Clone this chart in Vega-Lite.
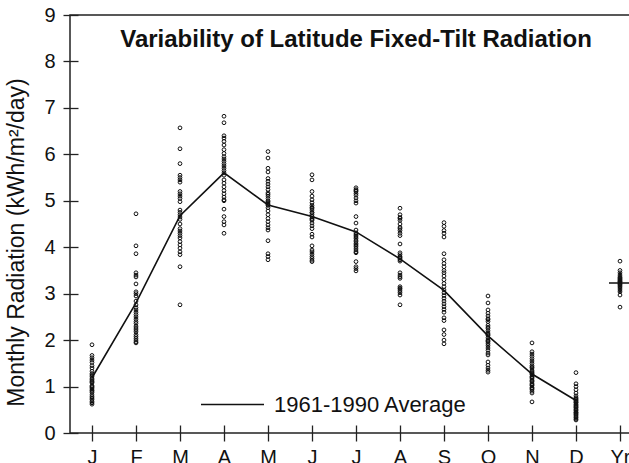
{
  "$schema": "https://vega.github.io/schema/vega-lite/v6.json",
  "autosize": "none",
  "padding": {"left": 70, "top": 15, "right": 0, "bottom": 30},
  "width": 572,
  "height": 418,
  "background": "white",
  "config": {
    "font": "Liberation Sans",
    "view": {"stroke": "#222", "strokeWidth": 1.5},
    "axis": {"grid": false, "domain": false, "tickColor": "#222", "tickWidth": 1.3, "labelColor": "#111", "titleColor": "#111", "labelFont": "Liberation Sans", "titleFont": "Liberation Sans", "titleFontWeight": "normal"}
  },
  "datasets": {
    "obs": [
      {"m":1,"v":1.9},{"m":1,"v":1.67},{"m":1,"v":1.62},{"m":1,"v":1.57},{"m":1,"v":1.52},{"m":1,"v":1.45},{"m":1,"v":1.4},{"m":1,"v":1.33},{"m":1,"v":1.28},{"m":1,"v":1.25},{"m":1,"v":1.22},{"m":1,"v":1.18},{"m":1,"v":1.15},{"m":1,"v":1.12},{"m":1,"v":1.1},{"m":1,"v":1.08},{"m":1,"v":1.02},{"m":1,"v":1.0},{"m":1,"v":0.98},{"m":1,"v":0.95},{"m":1,"v":0.92},{"m":1,"v":0.9},{"m":1,"v":0.87},{"m":1,"v":0.82},{"m":1,"v":0.78},{"m":1,"v":0.75},{"m":1,"v":0.72},{"m":1,"v":0.68},{"m":1,"v":0.65},{"m":1,"v":0.62},
      {"m":2,"v":4.72},{"m":2,"v":4.03},{"m":2,"v":3.86},{"m":2,"v":3.45},{"m":2,"v":3.4},{"m":2,"v":3.36},{"m":2,"v":3.21},{"m":2,"v":3.04},{"m":2,"v":3.0},{"m":2,"v":2.95},{"m":2,"v":2.76},{"m":2,"v":2.7},{"m":2,"v":2.65},{"m":2,"v":2.6},{"m":2,"v":2.5},{"m":2,"v":2.45},{"m":2,"v":2.4},{"m":2,"v":2.36},{"m":2,"v":2.3},{"m":2,"v":2.26},{"m":2,"v":2.22},{"m":2,"v":2.18},{"m":2,"v":2.12},{"m":2,"v":2.08},{"m":2,"v":2.04},{"m":2,"v":2.0},{"m":2,"v":1.96},{"m":2,"v":1.94},{"m":2,"v":2.55},{"m":2,"v":2.84},
      {"m":3,"v":6.57},{"m":3,"v":6.12},{"m":3,"v":5.8},{"m":3,"v":5.55},{"m":3,"v":5.5},{"m":3,"v":5.45},{"m":3,"v":5.4},{"m":3,"v":5.2},{"m":3,"v":5.15},{"m":3,"v":5.1},{"m":3,"v":5.05},{"m":3,"v":4.98},{"m":3,"v":4.8},{"m":3,"v":4.75},{"m":3,"v":4.7},{"m":3,"v":4.65},{"m":3,"v":4.6},{"m":3,"v":4.5},{"m":3,"v":4.4},{"m":3,"v":4.35},{"m":3,"v":4.3},{"m":3,"v":4.25},{"m":3,"v":4.2},{"m":3,"v":4.12},{"m":3,"v":4.05},{"m":3,"v":3.98},{"m":3,"v":3.9},{"m":3,"v":3.84},{"m":3,"v":3.58},{"m":3,"v":2.76},
      {"m":4,"v":6.82},{"m":4,"v":6.68},{"m":4,"v":6.4},{"m":4,"v":6.35},{"m":4,"v":6.28},{"m":4,"v":6.2},{"m":4,"v":6.1},{"m":4,"v":6.02},{"m":4,"v":5.95},{"m":4,"v":5.9},{"m":4,"v":5.85},{"m":4,"v":5.8},{"m":4,"v":5.75},{"m":4,"v":5.7},{"m":4,"v":5.65},{"m":4,"v":5.6},{"m":4,"v":5.55},{"m":4,"v":5.45},{"m":4,"v":5.38},{"m":4,"v":5.3},{"m":4,"v":5.22},{"m":4,"v":5.15},{"m":4,"v":5.08},{"m":4,"v":5.02},{"m":4,"v":4.82},{"m":4,"v":4.66},{"m":4,"v":4.55},{"m":4,"v":4.48},{"m":4,"v":4.3},{"m":4,"v":5.0},
      {"m":5,"v":6.06},{"m":5,"v":5.92},{"m":5,"v":5.7},{"m":5,"v":5.62},{"m":5,"v":5.48},{"m":5,"v":5.42},{"m":5,"v":5.36},{"m":5,"v":5.3},{"m":5,"v":5.24},{"m":5,"v":5.17},{"m":5,"v":5.1},{"m":5,"v":5.05},{"m":5,"v":5.0},{"m":5,"v":4.95},{"m":5,"v":4.9},{"m":5,"v":4.85},{"m":5,"v":4.78},{"m":5,"v":4.7},{"m":5,"v":4.62},{"m":5,"v":4.55},{"m":5,"v":4.48},{"m":5,"v":4.42},{"m":5,"v":4.37},{"m":5,"v":4.14},{"m":5,"v":3.86},{"m":5,"v":3.8},{"m":5,"v":3.73},{"m":5,"v":5.14},{"m":5,"v":4.98},{"m":5,"v":4.92},
      {"m":6,"v":5.56},{"m":6,"v":5.45},{"m":6,"v":5.2},{"m":6,"v":5.1},{"m":6,"v":5.02},{"m":6,"v":4.96},{"m":6,"v":4.9},{"m":6,"v":4.86},{"m":6,"v":4.8},{"m":6,"v":4.75},{"m":6,"v":4.7},{"m":6,"v":4.66},{"m":6,"v":4.62},{"m":6,"v":4.58},{"m":6,"v":4.52},{"m":6,"v":4.46},{"m":6,"v":4.4},{"m":6,"v":4.28},{"m":6,"v":4.22},{"m":6,"v":4.03},{"m":6,"v":3.94},{"m":6,"v":3.9},{"m":6,"v":3.85},{"m":6,"v":3.8},{"m":6,"v":3.76},{"m":6,"v":3.72},{"m":6,"v":3.69},{"m":6,"v":4.84},{"m":6,"v":4.74},{"m":6,"v":4.6},
      {"m":7,"v":5.28},{"m":7,"v":5.24},{"m":7,"v":5.2},{"m":7,"v":5.16},{"m":7,"v":5.12},{"m":7,"v":5.06},{"m":7,"v":5.0},{"m":7,"v":4.95},{"m":7,"v":4.66},{"m":7,"v":4.52},{"m":7,"v":4.37},{"m":7,"v":4.31},{"m":7,"v":4.28},{"m":7,"v":4.25},{"m":7,"v":4.22},{"m":7,"v":4.19},{"m":7,"v":4.15},{"m":7,"v":4.12},{"m":7,"v":4.08},{"m":7,"v":4.05},{"m":7,"v":4.02},{"m":7,"v":3.98},{"m":7,"v":3.94},{"m":7,"v":3.9},{"m":7,"v":3.88},{"m":7,"v":3.69},{"m":7,"v":3.58},{"m":7,"v":3.54},{"m":7,"v":3.49},{"m":7,"v":5.22},
      {"m":8,"v":4.84},{"m":8,"v":4.7},{"m":8,"v":4.64},{"m":8,"v":4.58},{"m":8,"v":4.5},{"m":8,"v":4.43},{"m":8,"v":4.36},{"m":8,"v":4.3},{"m":8,"v":4.07},{"m":8,"v":3.88},{"m":8,"v":3.84},{"m":8,"v":3.8},{"m":8,"v":3.76},{"m":8,"v":3.73},{"m":8,"v":3.45},{"m":8,"v":3.4},{"m":8,"v":3.36},{"m":8,"v":3.33},{"m":8,"v":3.15},{"m":8,"v":3.1},{"m":8,"v":3.06},{"m":8,"v":3.02},{"m":8,"v":2.97},{"m":8,"v":2.76},{"m":8,"v":4.4},{"m":8,"v":3.7},{"m":8,"v":3.78},{"m":8,"v":3.12},{"m":8,"v":4.25},{"m":8,"v":4.62},
      {"m":9,"v":4.53},{"m":9,"v":4.45},{"m":9,"v":4.36},{"m":9,"v":4.3},{"m":9,"v":4.22},{"m":9,"v":3.86},{"m":9,"v":3.73},{"m":9,"v":3.65},{"m":9,"v":3.58},{"m":9,"v":3.5},{"m":9,"v":3.45},{"m":9,"v":3.38},{"m":9,"v":3.3},{"m":9,"v":3.22},{"m":9,"v":3.15},{"m":9,"v":3.08},{"m":9,"v":3.02},{"m":9,"v":2.96},{"m":9,"v":2.9},{"m":9,"v":2.84},{"m":9,"v":2.78},{"m":9,"v":2.72},{"m":9,"v":2.66},{"m":9,"v":2.6},{"m":9,"v":2.48},{"m":9,"v":2.42},{"m":9,"v":2.22},{"m":9,"v":2.12},{"m":9,"v":2.0},{"m":9,"v":1.92},
      {"m":10,"v":2.95},{"m":10,"v":2.8},{"m":10,"v":2.65},{"m":10,"v":2.58},{"m":10,"v":2.52},{"m":10,"v":2.46},{"m":10,"v":2.4},{"m":10,"v":2.32},{"m":10,"v":2.25},{"m":10,"v":2.2},{"m":10,"v":2.15},{"m":10,"v":2.1},{"m":10,"v":2.05},{"m":10,"v":2.0},{"m":10,"v":1.96},{"m":10,"v":1.92},{"m":10,"v":1.88},{"m":10,"v":1.83},{"m":10,"v":1.78},{"m":10,"v":1.72},{"m":10,"v":1.68},{"m":10,"v":1.53},{"m":10,"v":1.46},{"m":10,"v":1.4},{"m":10,"v":1.35},{"m":10,"v":1.31},{"m":10,"v":2.28},{"m":10,"v":2.12},{"m":10,"v":1.98},{"m":10,"v":2.44},
      {"m":11,"v":1.94},{"m":11,"v":1.75},{"m":11,"v":1.7},{"m":11,"v":1.65},{"m":11,"v":1.6},{"m":11,"v":1.55},{"m":11,"v":1.5},{"m":11,"v":1.45},{"m":11,"v":1.4},{"m":11,"v":1.35},{"m":11,"v":1.3},{"m":11,"v":1.26},{"m":11,"v":1.22},{"m":11,"v":1.18},{"m":11,"v":1.14},{"m":11,"v":1.1},{"m":11,"v":1.06},{"m":11,"v":1.02},{"m":11,"v":0.98},{"m":11,"v":0.94},{"m":11,"v":0.9},{"m":11,"v":0.86},{"m":11,"v":0.67},{"m":11,"v":1.28},{"m":11,"v":1.2},{"m":11,"v":1.12},{"m":11,"v":1.04},{"m":11,"v":1.32},{"m":11,"v":1.42},{"m":11,"v":0.96},
      {"m":12,"v":1.3},{"m":12,"v":1.06},{"m":12,"v":1.0},{"m":12,"v":0.93},{"m":12,"v":0.86},{"m":12,"v":0.8},{"m":12,"v":0.76},{"m":12,"v":0.72},{"m":12,"v":0.68},{"m":12,"v":0.65},{"m":12,"v":0.62},{"m":12,"v":0.58},{"m":12,"v":0.55},{"m":12,"v":0.52},{"m":12,"v":0.48},{"m":12,"v":0.45},{"m":12,"v":0.42},{"m":12,"v":0.38},{"m":12,"v":0.35},{"m":12,"v":0.3},{"m":12,"v":0.28},{"m":12,"v":0.7},{"m":12,"v":0.66},{"m":12,"v":0.6},{"m":12,"v":0.5},{"m":12,"v":0.44},{"m":12,"v":0.74},{"m":12,"v":0.56},{"m":12,"v":0.4},{"m":12,"v":0.33},
      {"m":13,"v":3.7},{"m":13,"v":3.5},{"m":13,"v":3.45},{"m":13,"v":3.4},{"m":13,"v":3.36},{"m":13,"v":3.32},{"m":13,"v":3.28},{"m":13,"v":3.25},{"m":13,"v":3.22},{"m":13,"v":3.18},{"m":13,"v":3.15},{"m":13,"v":3.12},{"m":13,"v":3.08},{"m":13,"v":3.04},{"m":13,"v":2.97},{"m":13,"v":2.71},{"m":13,"v":3.3},{"m":13,"v":3.2},{"m":13,"v":3.26},{"m":13,"v":3.34}
    ],
    "avg": [
      {"m":1,"v":1.19},{"m":2,"v":2.8},{"m":3,"v":4.68},{"m":4,"v":5.6},{"m":5,"v":4.91},{"m":6,"v":4.66},{"m":7,"v":4.33},{"m":8,"v":3.75},{"m":9,"v":3.07},{"m":10,"v":2.09},{"m":11,"v":1.27},{"m":12,"v":0.7}
    ],
    "yr": [{"m":13,"v":3.23}],
    "titles": [{"m":7,"v":8.31,"label":"Variability of Latitude Fixed-Tilt Radiation"}]
  },
  "layer": [
    {
      "data": {"name": "obs"},
      "mark": {"type": "point", "filled": false, "stroke": "#111", "strokeWidth": 1, "size": 14, "opacity": 1},
      "encoding": {
        "x": {"field": "m", "type": "quantitative",
          "scale": {"domain": [0.5, 13.5], "nice": false, "zero": false},
          "axis": {"values": [1,2,3,4,5,6,7,8,9,10,11,12,13], "title": null, "offset": -8, "tickSize": 16, "labelPadding": 6, "labelFontSize": 20, "labelBaseline": "top",
            "labelExpr": "['J','F','M','A','M','J','J','A','S','O','N','D','Yr'][datum.value-1]"}},
        "y": {"field": "v", "type": "quantitative",
          "scale": {"domain": [0, 9], "nice": false},
          "axis": {"values": [0,1,2,3,4,5,6,7,8,9], "offset": -8, "tickSize": 15, "labelPadding": 8, "labelFontSize": 20,
            "title": "Monthly Radiation (kWh/m²/day)", "titleFontSize": 23, "titleAngle": -90, "titleBaseline": "alphabetic", "titleX": -55, "titleY": 227, "titleAlign": "center"}}
      }
    },
    {
      "data": {"name": "avg"},
      "mark": {"type": "line", "strokeWidth": 1.6},
      "encoding": {
        "x": {"field": "m", "type": "quantitative"},
        "y": {"field": "v", "type": "quantitative"},
        "stroke": {"datum": "1961-1990 Average", "type": "nominal",
          "scale": {"range": ["#111"]},
          "legend": {"title": null, "orient": "none", "legendX": 130, "legendY": 357, "symbolType": "stroke", "symbolSize": 3969, "symbolStrokeWidth": 1.3, "labelFontSize": 22, "labelLimit": 400, "labelOffset": 9, "labelColor": "#111", "padding": 0, "labelFont": "Liberation Sans"}}
      }
    },
    {
      "data": {"name": "yr"},
      "mark": {"type": "point", "shape": "M-1,0L1,0M0,-1L0,1", "size": 484, "filled": false, "stroke": "#111", "strokeWidth": 1.6, "opacity": 1},
      "encoding": {
        "x": {"field": "m", "type": "quantitative"},
        "y": {"field": "v", "type": "quantitative"}
      }
    },
    {
      "data": {"name": "titles"},
      "mark": {"type": "text", "font": "Liberation Sans", "fontSize": 24, "fontWeight": "bold", "color": "#111", "align": "center", "baseline": "alphabetic"},
      "encoding": {
        "x": {"field": "m", "type": "quantitative"},
        "y": {"field": "v", "type": "quantitative"},
        "text": {"field": "label"}
      }
    }
  ]
}
